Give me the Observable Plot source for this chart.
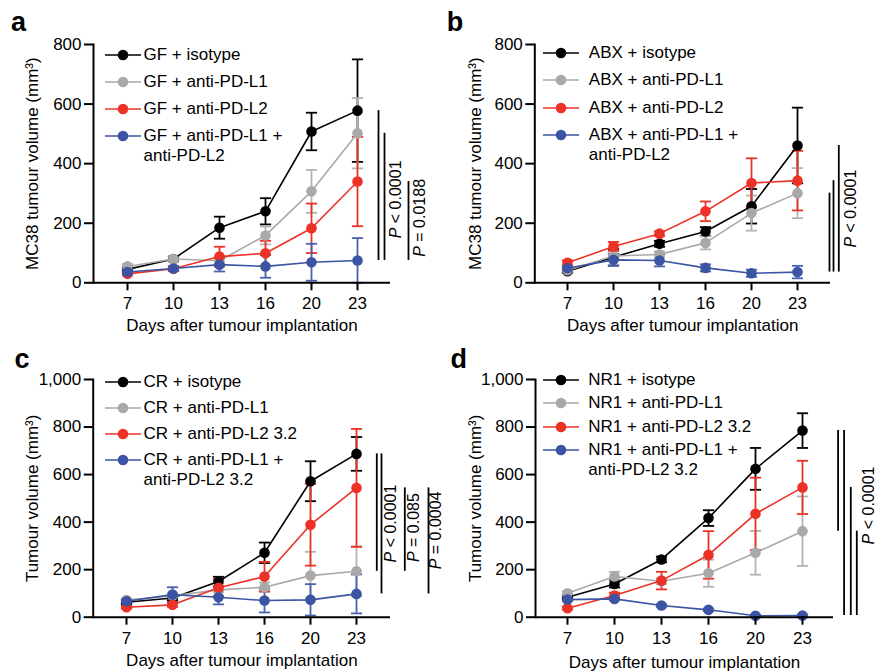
<!DOCTYPE html>
<html><head><meta charset="utf-8">
<script src="https://cdn.jsdelivr.net/npm/d3@7"></script>
<script src="https://cdn.jsdelivr.net/npm/@observablehq/plot@0.6"></script>
<style>
body{margin:0;background:#fff;}
#page{position:relative;width:886px;height:672px;overflow:hidden;background:#fff;font-family:"Liberation Sans",Arial,Helvetica,sans-serif;color:#000;}
#page > svg{position:absolute;overflow:visible;background:transparent;}
.letter{position:absolute;font-weight:bold;font-size:27px;line-height:27px;}
.leg{position:absolute;font-size:17px;line-height:20px;white-space:nowrap;}
.leg svg{position:static;vertical-align:top;}
.leg span{display:inline-block;vertical-align:top;}
</style></head><body><div id="page"></div>
<script>
const days = [7, 10, 13, 16, 20, 23];
const xLabel = "Days after tumour implantation";

// ---- Panel a (GF) ----
const aLabels = ["GF + isotype", "GF + anti-PD-L1", "GF + anti-PD-L2", "GF + anti-PD-L1 +\nanti-PD-L2"];
const aIsotype    = [45, 80, 185, 240, 508, 578];
const aIsotypeErr = [8, 8, 37, 44, 63, 172];
const aPDL1       = [55, 80, 74, 159, 307, 502];
const aPDL1Err    = [8, 8, 10, 30, 72, 118];
const aPDL2       = [30, 47, 88, 99, 183, 340];
const aPDL2Err    = [5, 8, 33, 42, 83, 150];
const aCombo      = [36, 48, 61, 55, 69, 75];
const aComboErr   = [5, 8, 23, 38, 62, 75];
const aPText = ["P < 0.0001", "P = 0.0188"];

// ---- Panel b (ABX) ----
const bLabels = ["ABX + isotype", "ABX + anti-PD-L1", "ABX + anti-PD-L2", "ABX + anti-PD-L1 +\nanti-PD-L2"];
const bIsotype    = [39, 86, 131, 172, 257, 461];
const bIsotypeErr = [5, 28, 10, 15, 58, 127];
const bPDL1       = [42, 90, 95, 134, 234, 301];
const bPDL1Err    = [5, 8, 10, 22, 59, 84];
const bPDL2       = [67, 122, 165, 240, 335, 343];
const bPDL2Err    = [8, 15, 8, 33, 83, 100];
const bCombo      = [49, 77, 75, 50, 32, 36];
const bComboErr   = [5, 20, 20, 12, 12, 21];
const bPText = ["P < 0.0001"];

// ---- Panel c (CR) ----
const cLabels = ["CR + isotype", "CR + anti-PD-L1", "CR + anti-PD-L2 3.2", "CR + anti-PD-L1 +\nanti-PD-L2 3.2"];
const cIsotype    = [63, 81, 150, 271, 572, 687];
const cIsotypeErr = [8, 10, 20, 43, 84, 71];
const cPDL1       = [72, 90, 115, 126, 175, 193];
const cPDL1Err    = [6, 10, 10, 20, 100, 105];
const cPDL2       = [42, 52, 124, 171, 389, 544];
const cPDL2Err    = [6, 8, 35, 62, 172, 248];
const cCombo      = [67, 95, 84, 70, 73, 98];
const cComboErr   = [8, 31, 30, 50, 66, 82];
const cPText = ["P < 0.0001", "P = 0.085", "P = 0.0004"];

// ---- Panel d (NR1) ----
const dLabels = ["NR1 + isotype", "NR1 + anti-PD-L1", "NR1 + anti-PD-L2 3.2", "NR1 + anti-PD-L1 +\nanti-PD-L2 3.2"];
const dIsotype    = [84, 140, 243, 417, 624, 785];
const dIsotypeErr = [8, 15, 12, 33, 88, 73];
const dPDL1       = [101, 171, 151, 185, 271, 362];
const dPDL1Err    = [8, 20, 12, 57, 92, 146];
const dPDL2       = [38, 91, 154, 262, 435, 546];
const dPDL2Err    = [6, 12, 37, 100, 152, 112];
const dCombo      = [74, 77, 49, 31, 6, 7];
const dComboErr   = [6, 6, 5, 5, 4, 4];
const dPText = ["P < 0.0001"];

const ticks800 = [0, 200, 400, 600, 800];
const ticks1000 = [0, 200, 400, 600, 800, 1000];

const colors = ["#000000", "#a9a9a9", "#ec3226", "#3b54a4"];
const errColors = ["#000000", "#b3b3b3", "#ec3226", "#4a62ad"];
const FONT = '"Liberation Sans", Arial, Helvetica, sans-serif';

const cap = {draw(ctx, size) { const w = Math.sqrt(size / Math.PI); ctx.moveTo(-w, 0); ctx.lineTo(w, 0); }};

const page = document.getElementById("page");

// brackets: [series from, series to, dx]; labels: [text index, y value, dx]
const panels = [
  {id: "a", left: 0, top: 0, width: 443, height: 340, m: [44, 53, 57.7, 93], pad: 0.66,
   ylabel: "MC38 tumour volume (mm³)", yMax: 800, ticks: ticks800, xlabDy: 42.7, ylabDx: -60.7,
   means: [aIsotype, aPDL1, aPDL2, aCombo], errs: [aIsotypeErr, aPDL1Err, aPDL2Err, aComboErr],
   labels: aLabels, ptext: aPText,
   brackets: [[0, 3, 21], [1, 3, 27], [2, 3, 51]],
   plabels: [[0, 280, 38], [1, 218, 62]],
   letter: [11, 9], legend: [105, 55, 27, 2.5]},
  {id: "b", left: 440, top: 0, width: 446, height: 340, m: [44, 56, 57.7, 94.3], pad: 0.65,
   ylabel: "MC38 tumour volume (mm³)", yMax: 800, ticks: ticks800, xlabDy: 42.7, ylabDx: -59.5,
   means: [bIsotype, bPDL1, bPDL2, bCombo], errs: [bIsotypeErr, bPDL1Err, bPDL2Err, bComboErr],
   labels: bLabels, ptext: bPText,
   brackets: [[1, 3, 32], [2, 3, 36], [0, 3, 41.3]],
   plabels: [[0, 249, 53.6]],
   letter: [446.7, 9], legend: [543.3, 52.7, 27.4, 9.5]},
  {id: "c", left: 0, top: 340, width: 443, height: 332, m: [39, 53, 55.3, 92.7], pad: 0.666,
   ylabel: "Tumour volume (mm³)", yMax: 1000, ticks: ticks1000, xlabDy: 43.3, ylabDx: -61,
   means: [cIsotype, cPDL1, cPDL2, cCombo], errs: [cIsotypeErr, cPDL1Err, cPDL2Err, cComboErr],
   labels: cLabels, ptext: cPText,
   brackets: [[0, 1, 20.3], [0, 3, 25], [2, 1, 48.3], [2, 3, 72]],
   plabels: [[0, 394, 34.3], [1, 377, 57], [2, 365, 79.3]],
   letter: [14.6, 346.4], legend: [105, 381.7, 26, 2.5]},
  {id: "d", left: 440, top: 340, width: 446, height: 332, m: [39, 53, 55.3, 95], pad: 0.64,
   ylabel: "Tumour volume (mm³)", yMax: 1000, ticks: ticks1000, xlabDy: 45, ylabDx: -60,
   means: [dIsotype, dPDL1, dPDL2, dCombo], errs: [dIsotypeErr, dPDL1Err, dPDL2Err, dComboErr],
   labels: dLabels, ptext: dPText,
   brackets: [[0, 1, 35.6], [0, 3, 41.6], [2, 3, 48.3], [1, 3, 54.3]],
   plabels: [[0, 470, 66.6]],
   letter: [450.5, 346.4], legend: [543.3, 380, 23.3, 9]}
];

for (const p of panels) {
  const series = p.means.map((mean, k) => days.map((d, i) => ({
    day: d, v: mean[i], lo: Math.max(0, mean[i] - p.errs[k][i]), hi: mean[i] + p.errs[k][i]
  })));
  const last = k => p.means[k][days.length - 1];
  const marks = [];
  series.forEach((rows, k) => {
    marks.push(Plot.ruleX(rows, {x: "day", y1: "lo", y2: "hi", stroke: errColors[k], strokeWidth: 1.8}));
    marks.push(Plot.dot(rows, {x: "day", y: "lo", symbol: cap, r: 5.6, stroke: errColors[k], fill: "none", strokeWidth: 1.8}));
    marks.push(Plot.dot(rows, {x: "day", y: "hi", symbol: cap, r: 5.6, stroke: errColors[k], fill: "none", strokeWidth: 1.8}));
  });
  series.forEach((rows, k) => {
    marks.push(Plot.line(rows, {x: "day", y: "v", stroke: colors[k], strokeWidth: 1.6}));
    marks.push(Plot.dot(rows, {x: "day", y: "v", r: 5.3, fill: colors[k], stroke: "none"}));
  });
  for (const [f, t, dx] of p.brackets) {
    marks.push(Plot.ruleX([{day: days[days.length - 1], y1: last(f), y2: last(t)}],
      {x: "day", y1: "y1", y2: "y2", dx, stroke: "#000", strokeWidth: 1.8}));
  }
  for (const [ti, yv, dx] of p.plabels) {
    marks.push(Plot.text([{day: days[days.length - 1], y: yv, t: p.ptext[ti]}],
      {x: "day", y: "y", text: "t", rotate: -90, dx, fontSize: 16, fill: "#000", textAnchor: "middle", lineAnchor: "middle"}));
  }
  marks.push(Plot.ruleY([0], {stroke: "#000", strokeWidth: 2}));
  marks.push(Plot.frame({anchor: "left", stroke: "#000", strokeWidth: 2}));
  marks.push(Plot.axisY({ticks: p.ticks, tickSize: 9, tickPadding: 3, strokeWidth: 2, tickFormat: d3.format(","), label: null}));
  marks.push(Plot.axisX({tickSize: 8, tickPadding: 6.5, strokeWidth: 2, label: null}));
  marks.push(Plot.text([p.ylabel], {frameAnchor: "left", rotate: -90, dx: p.ylabDx, fontSize: 17, textAnchor: "middle", lineAnchor: "middle"}));
  marks.push(Plot.text([xLabel], {frameAnchor: "bottom", dy: p.xlabDy, fontSize: 17, textAnchor: "middle", lineAnchor: "middle"}));

  const svg = Plot.plot({
    width: p.width, height: p.height,
    marginTop: p.m[0], marginRight: p.m[1], marginBottom: p.m[2], marginLeft: p.m[3],
    style: {fontSize: "17px", fontFamily: FONT, background: "transparent", overflow: "visible", color: "#000"},
    x: {type: "point", domain: days, padding: p.pad},
    y: {domain: [0, p.yMax]},
    marks
  });
  svg.style.left = p.left + "px";
  svg.style.top = p.top + "px";
  // italic P
  svg.querySelectorAll("text").forEach(t => {
    const s = t.textContent;
    if (/^P [<=]/.test(s)) {
      t.textContent = "";
      const ns = "http://www.w3.org/2000/svg";
      const a = document.createElementNS(ns, "tspan"); a.setAttribute("font-style", "italic"); a.textContent = "P";
      const b = document.createElementNS(ns, "tspan"); b.textContent = s.slice(1);
      t.appendChild(a); t.appendChild(b);
    }
  });
  page.appendChild(svg);

  const L = document.createElement("div");
  L.className = "letter"; L.textContent = p.id;
  L.style.left = p.letter[0] + "px"; L.style.top = p.letter[1] + "px";
  page.appendChild(L);

  const [lx, ly, gap, tg] = p.legend;
  p.labels.forEach((lab, k) => {
    const row = document.createElement("div");
    row.className = "leg";
    row.style.left = lx + "px";
    row.style.top = (ly + k * gap - 10) + "px";
    row.innerHTML = `<svg width="36" height="20"><line x1="0" x2="36" y1="10" y2="10" stroke="${colors[k]}" stroke-width="1.6"/><circle cx="18" cy="10" r="5.3" fill="${colors[k]}"/></svg><span style="margin-left:${tg}px">${lab.split("\n").join("<br>")}</span>`;
    page.appendChild(row);
  });
}
</script></body></html>
